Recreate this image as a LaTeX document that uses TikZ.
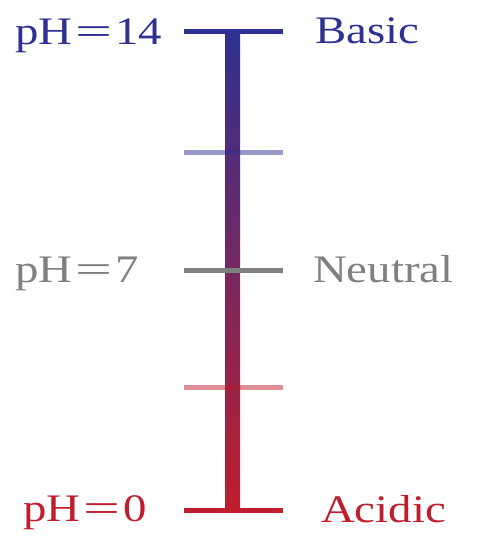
\documentclass[tikz,border=0pt]{standalone}
\usepackage{fontspec}
\setmainfont{Liberation Serif}[FakeStretch=1.2]
\definecolor{phblue}{HTML}{2E3192}
\definecolor{phred}{HTML}{BE1E2D}
\definecolor{phgray}{HTML}{808080}
\newcommand{\wideeq}{\kern3pt\scalebox{1.4}[1]{=}\kern3pt}
\begin{document}
\begin{tikzpicture}[x=1pt,y=-1pt,
  lbl/.style={inner sep=0pt, font=\fontsize{39}{41}\selectfont},
  tickline/.style={line width=5pt}]
\useasboundingbox (0,0) rectangle (479,541);
\shade[top color=phblue, bottom color=phred] (225,31) rectangle (240,510);
\draw[tickline, phblue] (184,31) -- (283,31);
\draw[tickline, phblue, opacity=0.5] (184,152) -- (283,152);
\draw[tickline, phgray] (184,270.5) -- (283,270.5);
\draw[tickline, phred, opacity=0.5] (184,387) -- (283,387);
\draw[tickline, phred] (184,510) -- (283,510);
\node[lbl, anchor=base west, text=phblue] (ph14) at (15,44) {pH\wideeq14};
\node[lbl, anchor=base west, text=phgray] (ph7) at (15,282) {pH\wideeq7};
\node[lbl, anchor=base west, text=phred] (ph0) at (23,521) {pH\wideeq0};
\node[lbl, anchor=base west, text=phblue] (basic) at (315,43) {Basic};
\node[lbl, anchor=base west, text=phgray] (neutral) at (313,282) {Neutral};
\node[lbl, anchor=base west, text=phred] (acidic) at (321,522) {Acidic};
\end{tikzpicture}
\end{document}
